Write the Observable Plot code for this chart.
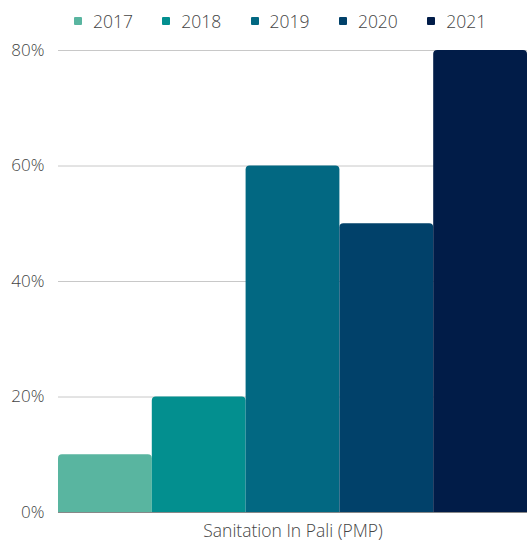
<!DOCTYPE html>
<html>
<head>
<meta charset="utf-8">
<script src="https://cdn.jsdelivr.net/npm/d3@7"></script>
<script src="https://cdn.jsdelivr.net/npm/@observablehq/plot@0.6"></script>
<style>
  body { margin: 0; background: #fff; font-family: "Open Sans", sans-serif; overflow: hidden; }
  #legend { height: 30px; display: flex; justify-content: flex-start; align-items: center; padding-left: 74px; padding-top: 12px; box-sizing: border-box; }
  .item { display: flex; align-items: center; font-size: 17.5px; font-weight: 300; color: #444; width: 88.3px; }
  .sw { width: 8px; height: 8px; margin-right: 11px; border-radius: 1px; }
  #chart svg { display: block; }
</style>
</head>
<body>
<div id="legend"></div>
<div id="chart"></div>
<script>
const category = "Sanitation In Pali (PMP)";
const years = ["2017", "2018", "2019", "2020", "2021"];
const values = [10, 20, 60, 50, 80];
const colors = ["#59b5a0", "#038f8f", "#026882", "#01416a", "#011c48"];
const yTicks = [0, 20, 40, 60, 80];

const data = years.map((y, i) => ({category, year: y, value: values[i]}));

const legend = document.getElementById("legend");
years.forEach((y, i) => {
  const it = document.createElement("div");
  it.className = "item";
  it.innerHTML = `<span class="sw" style="background:${colors[i]}"></span><span>${y}</span>`;
  legend.appendChild(it);
});

const chart = Plot.plot({
  width: 527,
  height: 512,
  marginTop: 20,
  marginBottom: 30,
  marginLeft: 58,
  marginRight: 0,
  style: {fontFamily: "Open Sans, sans-serif", fontSize: "17px", fontWeight: 300, color: "#444"},
  x: {domain: years, padding: 0, round: false, axis: null},
  y: {domain: [0, 80], label: null},
  color: {domain: years, range: colors},
  marks: [
    Plot.ruleY(yTicks.slice(1), {stroke: "#c8c8c8", strokeWidth: 1}),
    Plot.axisY(yTicks, {tickSize: 0, tickPadding: 14, tickFormat: d => d + "%", label: null, fontSize: 17, fill: "#444"}),
    Plot.barY(data, {x: "year", y: "value", fill: "year", rx: 4, insetBottom: -8, clip: true}),
    Plot.ruleY([0], {stroke: "#888", strokeWidth: 1}),
    Plot.text([category], {frameAnchor: "bottom", lineAnchor: "middle", dy: 19, text: d => d, fontSize: 17.5, fill: "#444"})
  ]
});
document.getElementById("chart").appendChild(chart);
</script>
</body>
</html>
